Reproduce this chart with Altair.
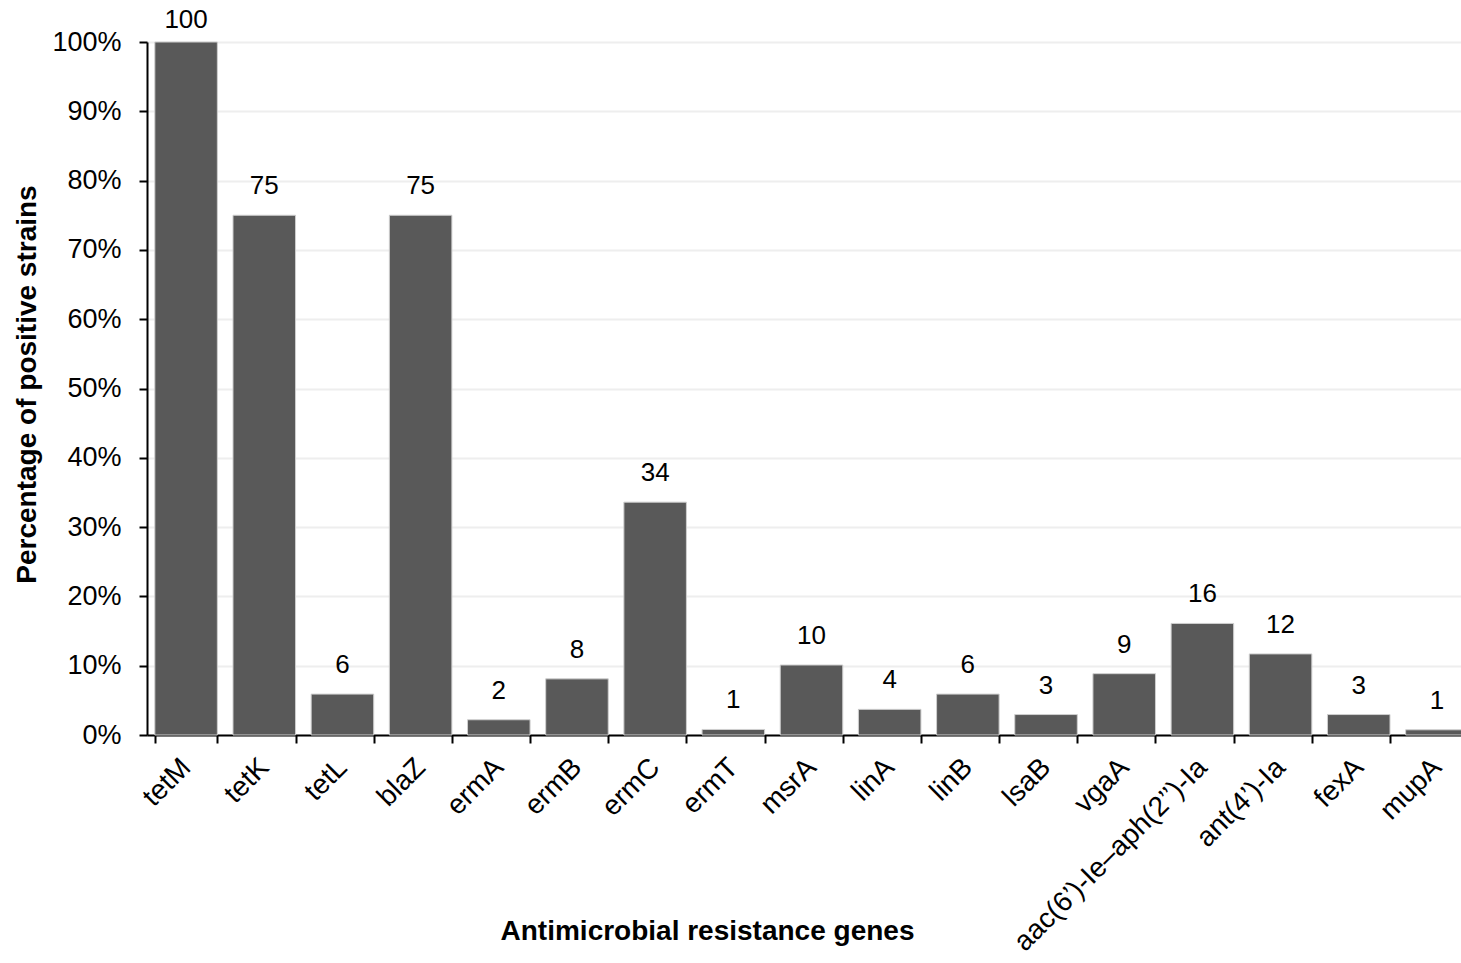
import altair as alt
import pandas as pd

genes = ["tetM", "tetK", "tetL", "blaZ", "ermA", "ermB", "ermC", "ermT", "msrA",
         "linA", "linB", "lsaB", "vgaA", "aac(6’)-Ie–aph(2’’)-Ia", "ant(4’)-Ia",
         "fexA", "mupA"]
percent = [100, 75, 5.9, 75, 2.2, 8.1, 33.6, 0.8, 10.1, 3.7, 5.9, 2.95, 8.85,
           16.1, 11.7, 2.95, 0.75]
labels = ["100", "75", "6", "75", "2", "8", "34", "1", "10", "4", "6", "3", "9",
          "16", "12", "3", "1"]

df = pd.DataFrame({
    "gene": genes,
    "value": [p / 100 for p in percent],
    "label": labels,
})

FONT = "Liberation Sans"

x = alt.X(
    "gene:N",
    sort=None,
    scale=alt.Scale(paddingInner=0.2, paddingOuter=0.1, range=[0, 1329]),
    axis=alt.Axis(
        title="Antimicrobial resistance genes",
        labelAngle=-45,
        labelAlign="right",
        labelBaseline="middle",
        labelFontSize=28,
        labelFont=FONT,
        labelColor="black",
        labelPadding=20,
        labelLimit=400,
        tickBand="extent",
        tickSize=8,
        tickColor="black",
        tickWidth=2,
        domainColor="black",
        domainWidth=2,
        grid=False,
        titleFont=FONT,
        titleFontSize=28,
        titleFontWeight="bold",
        titleColor="black",
        titleX=560,
        titleY=196,
        titleBaseline="middle",
    ),
)

y = alt.Y(
    "value:Q",
    scale=alt.Scale(domain=[0, 1]),
    axis=alt.Axis(
        title="Percentage of positive strains",
        values=[i / 10 for i in range(11)],
        format=".0%",
        labelFontSize=27,
        labelFont=FONT,
        labelColor="black",
        labelPadding=18,
        tickSize=8,
        tickColor="black",
        tickWidth=2,
        domainColor="black",
        domainWidth=2,
        gridColor="#eeeeee",
        gridWidth=2,
        titleFont=FONT,
        titleFontSize=28,
        titleFontWeight="bold",
        titleColor="black",
        titleX=-120,
        titleY=342,
        titleBaseline="middle",
    ),
)

bars = alt.Chart(df).mark_bar(color="#595959", stroke="#cfcfcf", strokeWidth=1).encode(
    x=x, y=y
)

# data labels stay inside the chart area, as in the original spreadsheet chart
text = alt.Chart(df).transform_calculate(
    ly="min(datum.value, 0.99)"
).mark_text(
    baseline="bottom", dy=-16, fontSize=26, font=FONT, color="black"
).encode(x=alt.X("gene:N", sort=None), y=alt.Y("ly:Q"), text="label:N")

chart = (bars + text).properties(
    width=1314,
    height=693,
    autosize=alt.AutoSizeParams(type="none"),
    padding={"left": 147, "top": 42, "right": 0, "bottom": 228},
).configure_view(stroke=None).configure(background="white")

chart.save("out.html", embed_options={"renderer": "svg", "actions": False})
